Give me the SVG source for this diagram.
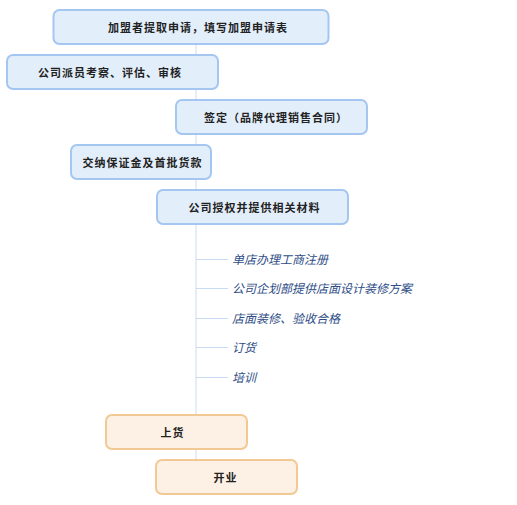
<svg xmlns="http://www.w3.org/2000/svg" width="517" height="505" viewBox="0 0 517 505">
<style>
.b rect{fill:#e3eefb;stroke:#a4c6f0;stroke-width:2}
.o rect{fill:#fdf0e4;stroke:#f2c994;stroke-width:2}
.t{font-family:"Liberation Sans","Noto Sans CJK SC",sans-serif;font-size:11px;font-weight:bold;fill:#222;letter-spacing:1px;text-anchor:middle}
.s{font-family:"Liberation Sans","Noto Sans CJK SC",sans-serif;font-size:12px;font-style:italic;fill:#2e4d86}
.c line{stroke:#c9dbf3;stroke-width:1}
</style>
<rect width="517" height="505" fill="#ffffff"/>
<g id="connectors" class="c">
<line x1="196" y1="44" x2="196" y2="460" stroke-width="1.5"/>
<line x1="196" y1="259.5" x2="228" y2="259.5"/>
<line x1="196" y1="288.5" x2="228" y2="288.5"/>
<line x1="196" y1="318.5" x2="228" y2="318.5"/>
<line x1="196" y1="347.5" x2="228" y2="347.5"/>
<line x1="196" y1="377.5" x2="228" y2="377.5"/>
</g>
<g id="n1" class="b"><rect x="53.5" y="10" width="275" height="34" rx="6"/><text class="t" x="198" y="31.5">加盟者提取申请，填写加盟申请表</text></g>
<g id="n2" class="b"><rect x="7" y="55" width="211" height="34" rx="6"/><text class="t" x="110" y="76.5">公司派员考察、评估、审核</text></g>
<g id="n3" class="b"><rect x="176" y="100" width="191" height="34" rx="6"/><text class="t" x="276" y="121.5">签定（品牌代理销售合同）</text></g>
<g id="n4" class="b"><rect x="71" y="145" width="140" height="34" rx="6"/><text class="t" x="142.5" y="166.5">交纳保证金及首批货款</text></g>
<g id="n5" class="b"><rect x="157" y="190" width="191" height="34" rx="6"/><text class="t" x="254.5" y="211.5">公司授权并提供相关材料</text></g>
<g id="s1"><text class="s" x="232" y="264">单店办理工商注册</text></g>
<g id="s2"><text class="s" x="232" y="293">公司企划部提供店面设计装修方案</text></g>
<g id="s3"><text class="s" x="232" y="323">店面装修、验收合格</text></g>
<g id="s4"><text class="s" x="232" y="352">订货</text></g>
<g id="s5"><text class="s" x="232" y="382">培训</text></g>
<g id="n6" class="o"><rect x="106" y="415" width="141" height="34" rx="6"/><text class="t" x="172.5" y="436.5">上货</text></g>
<g id="n7" class="o"><rect x="156" y="460" width="141" height="34" rx="6"/><text class="t" x="225.5" y="481.5">开业</text></g>
</svg>
